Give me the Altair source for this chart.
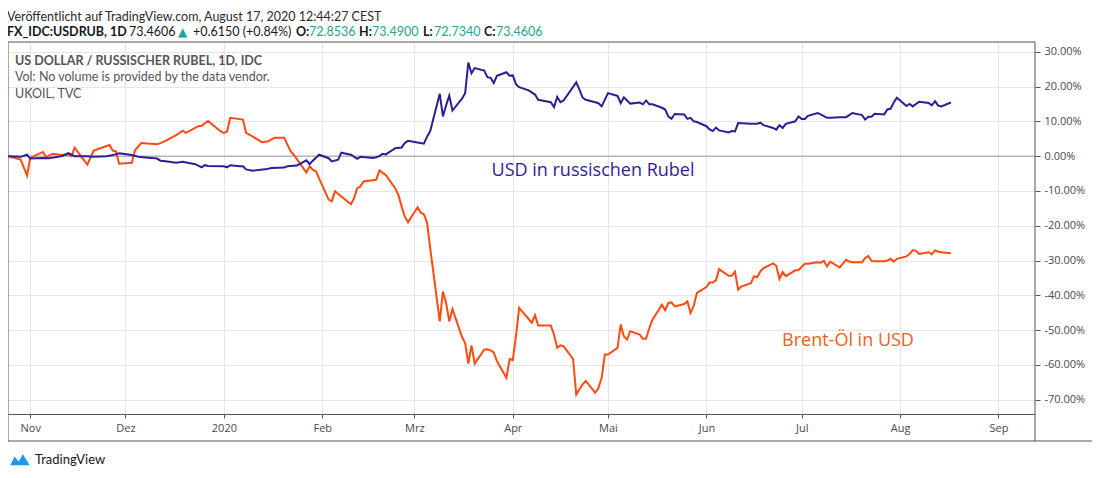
import altair as alt
import pandas as pd

# ---------------- data (percent change since 2019-10-25) ----------------
usd_dates = [
    "2019-10-25", "2019-10-29", "2019-10-31", "2019-11-01", "2019-11-05", "2019-11-07",
    "2019-11-11", "2019-11-13", "2019-11-15", "2019-11-19", "2019-11-21", "2019-11-25",
    "2019-11-27", "2019-11-29", "2019-12-03", "2019-12-05", "2019-12-09", "2019-12-11",
    "2019-12-12", "2019-12-13", "2019-12-17", "2019-12-19", "2019-12-23", "2019-12-25",
    "2019-12-26", "2019-12-27", "2020-01-01", "2020-01-02", "2020-01-03", "2020-01-06",
    "2020-01-07", "2020-01-08", "2020-01-10", "2020-01-14", "2020-01-16", "2020-01-20",
    "2020-01-21", "2020-01-24", "2020-01-27", "2020-01-28", "2020-01-29", "2020-01-31",
    "2020-02-03", "2020-02-04", "2020-02-06", "2020-02-07", "2020-02-10", "2020-02-12",
    "2020-02-13", "2020-02-17", "2020-02-18", "2020-02-19", "2020-02-20", "2020-02-21",
    "2020-02-24", "2020-02-26", "2020-02-27", "2020-02-28", "2020-03-02", "2020-03-04",
    "2020-03-05", "2020-03-06", "2020-03-09", "2020-03-10", "2020-03-11", "2020-03-12",
    "2020-03-13", "2020-03-16", "2020-03-17", "2020-03-18", "2020-03-19", "2020-03-20",
    "2020-03-23", "2020-03-24", "2020-03-25", "2020-03-26", "2020-03-27", "2020-03-30",
    "2020-03-31", "2020-04-01", "2020-04-02", "2020-04-03", "2020-04-06", "2020-04-08",
    "2020-04-09", "2020-04-13", "2020-04-14", "2020-04-15", "2020-04-16", "2020-04-17",
    "2020-04-21", "2020-04-22", "2020-04-23", "2020-04-24", "2020-04-27", "2020-04-28",
    "2020-04-29", "2020-05-01", "2020-05-04", "2020-05-05", "2020-05-06", "2020-05-07",
    "2020-05-08", "2020-05-11", "2020-05-12", "2020-05-13", "2020-05-14", "2020-05-15",
    "2020-05-18", "2020-05-19", "2020-05-20", "2020-05-21", "2020-05-22", "2020-05-25",
    "2020-05-26", "2020-05-27", "2020-05-28", "2020-05-29", "2020-06-01", "2020-06-02",
    "2020-06-03", "2020-06-04", "2020-06-05", "2020-06-08", "2020-06-09", "2020-06-10",
    "2020-06-11", "2020-06-15", "2020-06-17", "2020-06-18", "2020-06-19", "2020-06-22",
    "2020-06-23", "2020-06-24", "2020-06-25", "2020-06-26", "2020-06-29", "2020-06-30",
    "2020-07-01", "2020-07-02", "2020-07-03", "2020-07-06", "2020-07-07", "2020-07-09",
    "2020-07-10", "2020-07-13", "2020-07-15", "2020-07-17", "2020-07-20", "2020-07-21",
    "2020-07-22", "2020-07-23", "2020-07-24", "2020-07-27", "2020-07-28", "2020-07-29",
    "2020-07-30", "2020-07-31", "2020-08-03", "2020-08-04", "2020-08-05", "2020-08-06",
    "2020-08-07", "2020-08-10", "2020-08-11", "2020-08-12", "2020-08-13", "2020-08-14",
    "2020-08-17",
]
usd_vals = [
    0.0, -0.2, 0.4, -0.7, -0.5, -0.6,
    0.0, 0.9, 0.0, 0.0, -0.2, 0.0,
    0.3, 0.8, 0.3, -0.2, -0.5, -0.7,
    -1.3, -1.4, -1.9, -1.6, -2.3, -3.2,
    -2.6, -2.8, -2.9, -3.2, -2.6, -2.9,
    -2.9, -3.8, -4.2, -3.8, -3.4, -3.3,
    -2.9, -2.7, -1.2, -2.3, -1.3, 0.4,
    -0.6, -1.5, -1.0, 1.0, 0.4, -0.8,
    -0.2, -0.5, -0.3, 0.0, 0.7, 0.5,
    2.3, 2.5, 3.8, 4.4, 3.9, 3.6,
    5.6, 7.2, 17.9, 11.4, 14.6, 17.4,
    13.1, 16.5, 18.1, 26.9, 23.8, 25.3,
    24.6, 22.7, 22.5, 21.0, 23.1, 24.1,
    23.1, 23.2, 20.7, 19.8, 18.9, 17.7,
    16.2, 15.5, 14.1, 17.0, 15.5, 16.0,
    21.2, 19.1, 16.8, 16.2, 15.5, 15.2,
    14.3, 18.1, 17.3, 15.2, 16.9, 16.0,
    15.1, 15.4, 14.9, 16.0, 14.9, 14.9,
    13.9, 13.4, 11.4, 10.7, 12.1, 12.0,
    10.7, 11.0, 10.0, 9.8, 8.6, 7.7,
    7.2, 8.2, 7.4, 6.8, 7.2, 7.1,
    9.5, 9.3, 9.3, 9.6, 8.9, 8.1,
    7.6, 8.9, 8.1, 9.3, 10.0, 11.4,
    10.7, 10.7, 11.6, 12.4, 12.0, 11.0,
    11.0, 11.2, 11.2, 12.4, 11.8, 10.5,
    11.3, 11.3, 12.2, 12.0, 13.4, 13.6,
    15.4, 16.8, 14.4, 15.0, 14.3, 15.0,
    15.6, 15.3, 14.6, 15.8, 14.5, 14.3,
    15.4,
]

oil_dates = [
    "2019-10-25", "2019-10-29", "2019-10-31", "2019-11-01", "2019-11-05", "2019-11-06",
    "2019-11-08", "2019-11-11", "2019-11-13", "2019-11-14", "2019-11-15", "2019-11-19",
    "2019-11-21", "2019-11-22", "2019-11-26", "2019-11-27", "2019-11-28", "2019-11-29",
    "2019-12-03", "2019-12-04", "2019-12-06", "2019-12-11", "2019-12-13", "2019-12-17",
    "2019-12-19", "2019-12-20", "2019-12-24", "2019-12-25", "2019-12-27", "2019-12-31",
    "2020-01-01", "2020-01-02", "2020-01-03", "2020-01-07", "2020-01-08", "2020-01-10",
    "2020-01-13", "2020-01-15", "2020-01-17", "2020-01-20", "2020-01-22", "2020-01-23",
    "2020-01-27", "2020-01-28", "2020-01-29", "2020-01-30", "2020-02-03", "2020-02-04",
    "2020-02-05", "2020-02-07", "2020-02-10", "2020-02-11", "2020-02-12", "2020-02-13",
    "2020-02-14", "2020-02-18", "2020-02-19", "2020-02-20", "2020-02-21", "2020-02-24",
    "2020-02-25", "2020-02-26", "2020-02-27", "2020-02-28", "2020-03-02", "2020-03-03",
    "2020-03-04", "2020-03-05", "2020-03-06", "2020-03-09", "2020-03-10", "2020-03-11",
    "2020-03-12", "2020-03-13", "2020-03-16", "2020-03-17", "2020-03-18", "2020-03-19",
    "2020-03-20", "2020-03-23", "2020-03-24", "2020-03-25", "2020-03-26", "2020-03-27",
    "2020-03-30", "2020-03-31", "2020-04-01", "2020-04-02", "2020-04-03", "2020-04-06",
    "2020-04-07", "2020-04-08", "2020-04-09", "2020-04-10", "2020-04-13", "2020-04-14",
    "2020-04-15", "2020-04-16", "2020-04-17", "2020-04-20", "2020-04-21", "2020-04-22",
    "2020-04-23", "2020-04-24", "2020-04-27", "2020-04-28", "2020-04-29", "2020-04-30",
    "2020-05-01", "2020-05-04", "2020-05-05", "2020-05-06", "2020-05-07", "2020-05-08",
    "2020-05-11", "2020-05-12", "2020-05-13", "2020-05-14", "2020-05-15", "2020-05-18",
    "2020-05-19", "2020-05-20", "2020-05-21", "2020-05-22", "2020-05-25", "2020-05-26",
    "2020-05-27", "2020-05-28", "2020-05-29", "2020-06-01", "2020-06-02", "2020-06-03",
    "2020-06-04", "2020-06-05", "2020-06-08", "2020-06-09", "2020-06-10", "2020-06-11",
    "2020-06-12", "2020-06-15", "2020-06-16", "2020-06-17", "2020-06-18", "2020-06-19",
    "2020-06-22", "2020-06-23", "2020-06-24", "2020-06-25", "2020-06-26", "2020-06-29",
    "2020-06-30", "2020-07-01", "2020-07-02", "2020-07-03", "2020-07-06", "2020-07-07",
    "2020-07-08", "2020-07-09", "2020-07-10", "2020-07-13", "2020-07-14", "2020-07-15",
    "2020-07-16", "2020-07-17", "2020-07-20", "2020-07-21", "2020-07-22", "2020-07-23",
    "2020-07-24", "2020-07-27", "2020-07-28", "2020-07-29", "2020-07-30", "2020-07-31",
    "2020-08-03", "2020-08-04", "2020-08-05", "2020-08-06", "2020-08-07", "2020-08-10",
    "2020-08-11", "2020-08-12", "2020-08-13", "2020-08-14", "2020-08-17",
]
oil_vals = [
    0.0, -1.0, -5.6, -0.5, 1.2, -0.3,
    0.7, 0.3, 0.5, 0.0, 2.4, -2.4,
    1.6, 1.9, 3.2, 1.6, 1.4, -2.2,
    -1.9, 1.7, 3.8, 3.4, 4.1, 6.0,
    7.3, 6.7, 8.6, 8.7, 10.1, 7.1,
    6.7, 7.1, 11.0, 10.5, 6.7, 5.7,
    4.0, 4.3, 5.3, 5.3, 1.4, 0.4,
    -4.7, -2.9, -3.9, -4.4, -12.5, -13.0,
    -10.1, -11.6, -13.8, -12.1, -9.2, -8.7,
    -7.3, -6.8, -4.1, -4.8, -5.4, -9.3,
    -11.2, -14.5, -17.4, -19.0, -14.7, -16.2,
    -16.7, -19.1, -26.5, -47.5, -38.9, -42.2,
    -47.5, -43.9, -51.9, -53.7, -59.6, -54.4,
    -59.6, -55.6, -55.5, -55.8, -56.4, -58.9,
    -63.7, -58.3, -58.6, -51.8, -43.6, -46.8,
    -47.9, -45.7, -48.7, -48.7, -48.7, -51.3,
    -55.1, -54.4, -54.6, -58.3, -68.5, -67.0,
    -65.6, -64.6, -68.0, -66.6, -63.7, -57.0,
    -57.0, -55.1, -48.4, -51.8, -52.7, -50.3,
    -51.3, -52.5, -52.5, -49.4, -47.0, -42.7,
    -44.3, -42.2, -42.0, -43.2, -42.5, -41.7,
    -45.1, -43.0, -39.3, -37.6, -36.3, -36.3,
    -35.7, -32.5, -34.4, -34.4, -33.2, -38.4,
    -37.5, -36.5, -34.5, -34.8, -33.1, -32.2,
    -30.8, -31.5, -35.3, -33.3, -34.5, -32.8,
    -32.8, -31.8, -30.9, -30.9, -30.5, -30.6,
    -30.1, -31.7, -30.3, -32.0, -30.9, -29.8,
    -30.3, -30.5, -30.5, -29.3, -28.7, -30.1,
    -30.2, -30.2, -30.0, -29.5, -30.3, -29.5,
    -28.8, -28.1, -27.0, -27.2, -28.1, -27.6,
    -28.2, -27.1, -27.4, -27.6, -27.9,
]

series_names = ["USD/RUB", "UKOIL"]
series_colors = ["#2e1e96", "#ff4a10"]

y_ticks = [-70, -60, -50, -40, -30, -20, -10, 0, 10, 20, 30]
month_ticks = [(2019, 11), (2019, 12), (2020, 1), (2020, 2), (2020, 3), (2020, 4),
               (2020, 5), (2020, 6), (2020, 7), (2020, 8), (2020, 9)]
month_names = ["Jan", "Feb", "Mrz", "Apr", "Mai", "Jun", "Jul", "Aug", "Sep", "Okt", "Nov", "Dez"]

usd_df = pd.DataFrame({"date": usd_dates, "value": usd_vals, "series": series_names[0]})
oil_df = pd.DataFrame({"date": oil_dates, "value": oil_vals, "series": series_names[1]})

# ---------------- scales & axes ----------------
W, H = 1027, 372
FONT = "Lato"
AXIS_FONT = "Open Sans"
GRID = "#e6e6e6"
FRAME = "#555555"

x_scale = alt.Scale(domain=[alt.DateTime(year=2019, month=10, date=25),
                            alt.DateTime(year=2020, month=9, date=12, hours=12)])
y_scale = alt.Scale(domain=[-74.1, 32.8], nice=False, zero=False)
color_scale = alt.Scale(domain=series_names, range=series_colors)

names_js = "[" + ",".join("'%s'" % m for m in month_names) + "]"
x_axis = alt.Axis(
    values=[alt.DateTime(year=y, month=m, date=1) for y, m in month_ticks],
    labelExpr="month(datum.value) == 0 ? timeFormat(datum.value, '%Y') : "
              + names_js + "[month(datum.value)]",
    grid=True, gridColor=GRID, domain=True, domainColor=FRAME,
    tickColor=FRAME, tickSize=4, labelColor="#4a4a4a", labelFont=AXIS_FONT,
    labelFontSize=11, labelPadding=4, labelAngle=0, title=None, labelFlush=False,
)
y_axis = alt.Axis(
    orient="right", values=y_ticks,
    labelExpr="replace(format(datum.value, '.2f'), '\u2212', '-') + '%'",
    grid=True, gridColor=GRID, domain=False, tickColor=FRAME, tickSize=5,
    labelColor="#4a4a4a", labelFont=AXIS_FONT, labelFontSize=11, labelPadding=4,
    title=None,
)


def series_line(df):
    return alt.Chart(df).mark_line(strokeWidth=2).encode(
        x=alt.X("date:T", scale=x_scale, axis=x_axis),
        y=alt.Y("value:Q", scale=y_scale, axis=y_axis),
        color=alt.Color("series:N", scale=color_scale, legend=None),
    )


zero_line = alt.Chart(pd.DataFrame({"value": [0]})).mark_rule(
    color="#9a9a9a", strokeWidth=1
).encode(y=alt.Y("value:Q", scale=y_scale, axis=y_axis))


def rule(x1, y1, x2, y2, color=FRAME):
    return alt.Chart(pd.DataFrame({"k": [0]})).mark_rule(color=color, strokeWidth=1).encode(
        x=alt.value(x1), x2=alt.value(x2), y=alt.value(y1), y2=alt.value(y2)
    )


def txt(s, x, y, size=12, color="#131722", weight="normal", font=FONT, align="left"):
    return alt.Chart(pd.DataFrame({"t": [s]})).mark_text(
        align=align, baseline="middle", fontSize=size, color=color,
        fontWeight=weight, font=font,
    ).encode(x=alt.value(x), y=alt.value(y), text="t:N")


TEAL = "#22a68f"
HY1, HY2 = -25, -10
layers = [
    zero_line,
    series_line(oil_df),
    series_line(usd_df),
    # frame
    rule(0, 0, W, 0),
    rule(0, 0, 0, H + 27),
    rule(W, 0, W, H + 27),
    rule(0, H + 27, W + 58, H + 27),
    # header
    txt("Veröffentlicht auf TradingView.com, August 17, 2020 12:44:27 CEST", -1, HY1, 12.5, "#2a2a2a"),
    txt("FX_IDC:USDRUB, 1D", -1, HY2, 12.5, "#131722", "bold"),
    txt("73.4606", 121, HY2, 12.5),
    txt("▲", 170, HY2, 12, TEAL, "normal", "DejaVu Sans"),
    txt("+0.6150 (+0.84%)", 185, HY2, 12.5),
    txt("O:", 288, HY2, 12.5, "#131722", "bold"),
    txt("72.8536", 301, HY2, 12.5, TEAL),
    txt("H:", 351, HY2, 12.5, "#131722", "bold"),
    txt("73.4900", 364, HY2, 12.5, TEAL),
    txt("L:", 415, HY2, 12.5, "#131722", "bold"),
    txt("72.7340", 426, HY2, 12.5, TEAL),
    txt("C:", 476, HY2, 12.5, "#131722", "bold"),
    txt("73.4606", 488, HY2, 12.5, TEAL),
    # legend in pane
    txt("US DOLLAR / RUSSISCHER RUBEL, 1D, IDC", 7, 19, 12.5, "#555555", "bold"),
    txt("Vol: No volume is provided by the data vendor.", 7, 35, 12.5, "#555555"),
    txt("UKOIL, TVC", 7, 52, 12.5, "#555555"),
    # annotations
    txt("USD in russischen Rubel", 585, 129, 18, "#2e1e96", "normal", "Open Sans", "center"),
    txt("Brent-Öl in USD", 840, 299, 18, "#f2601c", "normal", "Open Sans", "center"),
    # footer
    txt("TradingView", 27, 418, 13, "#131722"),
]

logo = alt.Chart(pd.DataFrame({"k": [0]})).mark_point(
    filled=True, color="#2196f3", opacity=1, size=380,
    shape="M -1 0.55 L -0.55 -0.35 L -0.15 0.15 L 0.3 -0.6 L 1 0.55 Z",
).encode(x=alt.value(12), y=alt.value(418))
layers.append(logo)

chart = alt.layer(*layers).properties(
    width=W, height=H,
    padding={"left": 0, "top": 34, "right": 57, "bottom": 56},
    autosize=alt.AutoSizeParams(type="none"),
    background="white",
).configure_view(stroke=None)

chart.save("out.html", embed_options={"renderer": "svg", "actions": False})
